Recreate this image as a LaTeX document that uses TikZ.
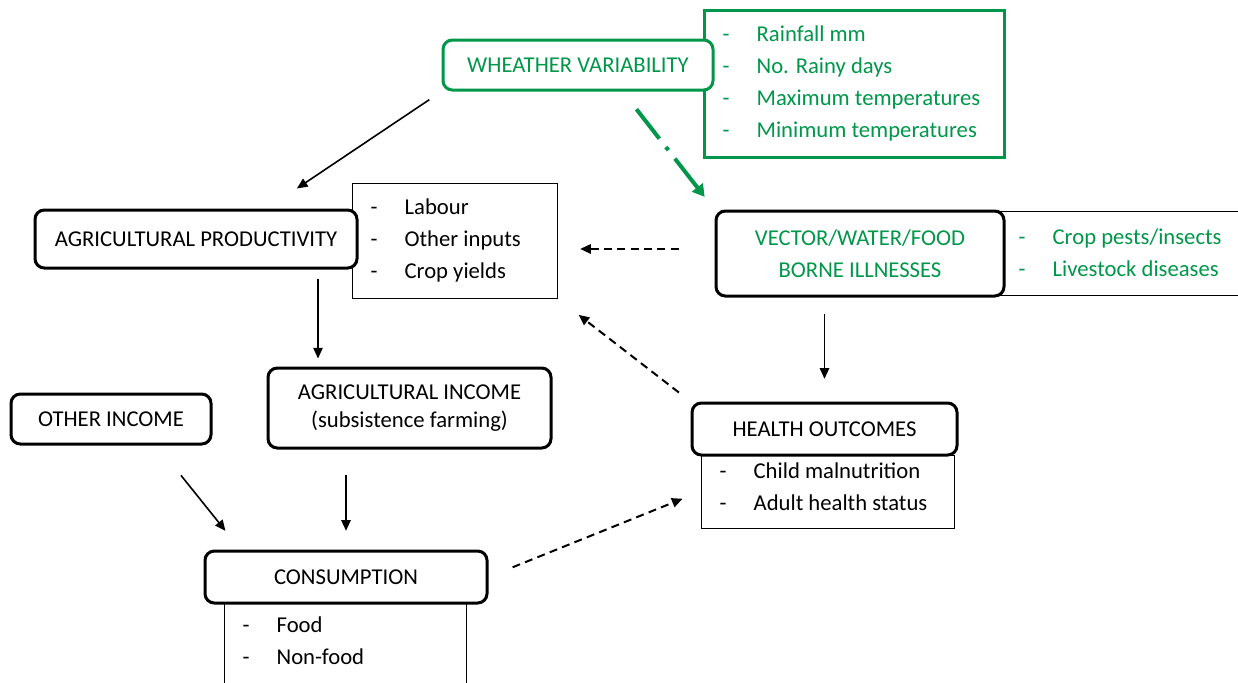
\documentclass[tikz,border=0pt]{standalone}
\usepackage{fontspec}
\setmainfont{Carlito}
\usepackage{xcolor}
\usetikzlibrary{arrows.meta}
\definecolor{clrWeather}{HTML}{00974A}
\newcommand{\litem}[1]{\makebox[25.5pt][l]{-}#1}

\begin{document}
\begin{tikzpicture}[
    x=0.75pt, y=-0.75pt,
    every node/.style={font=\fontsize{17}{24}\selectfont},
    mainbox/.style={rectangle, draw=black, fill=white, line width=2.25pt, rounded corners=7pt, align=center, inner sep=0pt},
    listbox/.style={rectangle, draw=black, fill=white, line width=0.75pt, align=flush left, inner xsep=14pt, inner ysep=0pt},
    arrow/.style={-{Triangle[length=8pt, width=7pt]}, line width=1.2pt, black},
    dasharrow/.style={-{Triangle[length=8pt, width=7pt]}, line width=1.5pt, black, dash pattern=on 6pt off 4pt},
    greenarrow/.style={-{Triangle[length=9pt, width=10pt]}, line width=3pt, clrWeather, dash pattern=on 28pt off 8pt on 3pt off 8pt},
]
\clip (0,0) rectangle (1238,682);

% === List boxes ===
\node[listbox, draw=clrWeather, line width=2.25pt, text=clrWeather, text width=197pt, minimum height=110.25pt] (weatherlist) at (854,83.5)
    {\litem{Rainfall mm}\\\litem{No. Rainy days}\\\litem{Maximum temperatures}\\\litem{Minimum temperatures}};
\node[listbox, text width=125.75pt, minimum height=86.25pt] (agprodlist) at (454.5,240.5)
    {\litem{Labour}\\\litem{Other inputs}\\\litem{Crop yields}};
\node[listbox, text=clrWeather, text width=159.5pt, minimum height=63pt] (vectorlist) at (1125,253)
    {\litem{Crop pests/insects}\\\litem{Livestock diseases}};
\node[listbox, text width=161.75pt, minimum height=54.75pt] (healthlist) at (827.5,491.5)
    {\litem{Child malnutrition}\\\litem{Adult health status}\\[-16.5pt]\mbox{}};
\node[listbox, text width=153.5pt, minimum height=87pt] (conslist) at (345,661)
    {\litem{Food}\\\litem{Non-food}\\\strut};

% === Main boxes ===
\node[mainbox, draw=clrWeather, text=clrWeather, minimum width=202.5pt, minimum height=37.5pt] (weather) at (578,65)
    {WHEATHER VARIABILITY};
\node[mainbox, minimum width=241.5pt, minimum height=43.5pt] (agprod) at (196,239)
    {AGRICULTURAL PRODUCTIVITY};
\node[mainbox, text=clrWeather, minimum width=216pt, minimum height=63.75pt] (vector) at (860,253.5)
    {VECTOR/WATER/FOOD\\BORNE ILLNESSES};
\node[mainbox, minimum width=198.75pt, minimum height=39pt] (health) at (824.5,429)
    {HEALTH OUTCOMES};
\node[mainbox, minimum width=212.25pt, minimum height=60pt] (agincome) at (409.5,408)
    {AGRICULTURAL INCOME\\[-3pt](subsistence farming)};
\node[mainbox, minimum width=150pt, minimum height=37.5pt] (otherinc) at (111,419)
    {OTHER INCOME};
\node[mainbox, minimum width=211.5pt, minimum height=39pt] (consumption) at (346,577)
    {CONSUMPTION};

% === Arrows ===
\draw[arrow, shorten <=11pt, shorten >=27pt] (weather.south west) -- ([xshift=53.25pt]agprod.north);
\draw[greenarrow, shorten <=16.8pt, shorten >=12pt] ([xshift=33.5pt]weather.south) -- (vector.north west);
\draw[dasharrow, shorten <=27pt, shorten >=17pt] ([yshift=3.4pt]vector.west) -- ([yshift=3.4pt]vector.west -| agprodlist.east);
\draw[arrow, shorten <=12pt, shorten >=17pt] (health.north |- vector.south) -- (health.north);
\draw[dasharrow, shorten <=11pt, shorten >=20pt] (health.north west) -- (agprodlist.south east);
\draw[arrow, shorten <=6.75pt, shorten >=6pt] ([xshift=91.5pt]agprod.south) -- ([xshift=91.5pt]agprod.south |- agincome.north);
\draw[arrow, shorten <=28.7pt, shorten >=18pt] ([xshift=34.5pt]otherinc.south) -- ([xshift=27.75pt]consumption.north west);
\draw[arrow, shorten <=18.75pt, shorten >=14pt] (consumption.north |- agincome.south) -- (consumption.north);
\draw[dasharrow, shorten <=19.5pt, shorten >=14.5pt] (consumption.east) -- (healthlist.west);

\end{tikzpicture}
\end{document}
